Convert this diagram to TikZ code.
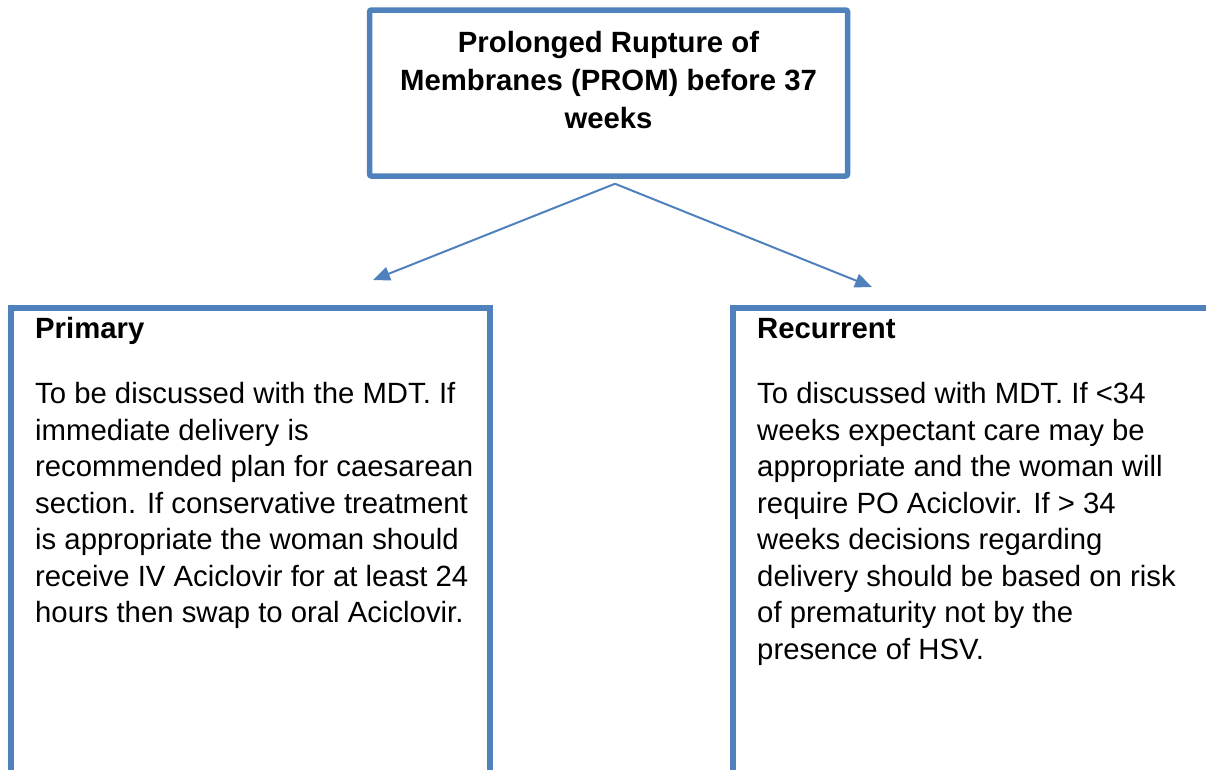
\documentclass[tikz,border=0pt]{standalone}
\usepackage{fontspec}
\setmainfont{Liberation Sans}
\usetikzlibrary{arrows.meta,calc}
\definecolor{boxblue}{RGB}{79,129,189}
\tikzset{
  frame/.style={draw=boxblue, line width=5.5pt, fill=white, inner sep=0pt, rectangle},
  link/.style={draw=boxblue, line width=2pt, -{Triangle[length=17pt,width=14pt]}},
  headtext/.style={font=\fontsize{29.3}{38}\selectfont\bfseries, align=center, inner sep=0pt},
  titletext/.style={font=\fontsize{29.3}{36.5}\selectfont\bfseries, inner sep=0pt, anchor=base west},
  bodytext/.style={font=\fontsize{29.3}{36.5}\selectfont, align=left, inner sep=0pt, anchor=base west}
}
\begin{document}
\begin{tikzpicture}[x=1pt,y=-1pt]
\useasboundingbox (0,0) rectangle (1206,769);
\clip (0,0) rectangle (1206,769);
% boxes
\node[frame, rounded corners=2pt, minimum width=478pt, minimum height=166pt] (top) at (608.5,93) {};
\node[frame, minimum width=479pt, minimum height=592pt] (primary) at (250.5,604) {};
\node[frame, minimum width=560pt, minimum height=592pt] (recurrent) at (1013,604) {};
% title text (base anchor = baseline of last line)
\node[headtext, anchor=base] (toptext) at (608.5,128) {Prolonged Rupture of\\Membranes (PROM) before 37\\weeks};
% left text
\node[titletext] (ptitle) at (35,338) {Primary};
\node[bodytext] (pbody) at (35,622.5) {To be discussed with the MDT. If\\immediate delivery is\\recommended plan for caesarean\\section. If conservative treatment\\is appropriate the woman should\\receive IV Aciclovir for at least 24\\hours then swap to oral Aciclovir.};
% right text
\node[titletext] (rtitle) at (757,338) {Recurrent};
\node[bodytext] (rbody) at (757,659) {To discussed with MDT. If <34\\weeks expectant care may be\\appropriate and the woman will\\require PO Aciclovir. If > 34\\weeks decisions regarding\\delivery should be based on risk\\of prematurity not by the\\presence of HSV.};
% connectors
\coordinate (src) at ($(top.south)+(6.5,5)$);
\coordinate (ptip) at (373,280);
\coordinate (rtip) at (872,287);
\draw[link] (src) -- (ptip);
\draw[link] (src) -- (rtip);
\end{tikzpicture}
\end{document}
